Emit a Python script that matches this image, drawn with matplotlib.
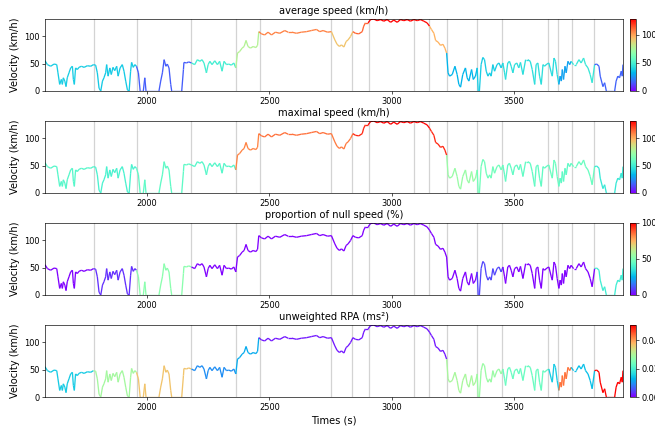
import numpy as np
import matplotlib.pyplot as plt
from matplotlib.collections import LineCollection

# time (s) and velocity (km/h)
times = [1583, 1593, 1606, 1620, 1631, 1636, 1643, 1650, 1654, 1658, 1664, 1669, 1674, 1681, 1688,
         1695, 1699, 1703, 1708, 1715, 1722, 1732, 1743, 1756, 1770, 1781, 1790, 1797, 1804, 1811,
         1818, 1824, 1831, 1835, 1841, 1848, 1854, 1861, 1868, 1876, 1882, 1890, 1899, 1906, 1913,
         1920, 1927, 1933, 1937, 1944, 1950, 1957, 1965, 1972, 1985, 1991, 1996, 2049, 2056, 2063,
         2070, 2077, 2083, 2090, 2097, 2101, 2142, 2149, 2151, 2162, 2170, 2182, 2195, 2206, 2216,
         2225, 2233, 2243, 2250, 2257, 2266, 2277, 2288, 2297, 2307, 2315, 2325, 2334, 2345, 2355,
         2363, 2370, 2379, 2389, 2397, 2405, 2413, 2423, 2434, 2445, 2452, 2457, 2468, 2481, 2495,
         2509, 2525, 2543, 2563, 2577, 2593, 2611, 2631, 2652, 2672, 2693, 2706, 2720, 2738, 2754,
         2768, 2777, 2787, 2795, 2805, 2814, 2822, 2832, 2842, 2852, 2866, 2880, 2886, 2893, 2904,
         2914, 2927, 2941, 2955, 2968, 2982, 2996, 3009, 3023, 3036, 3050, 3064, 3077, 3091, 3105,
         3118, 3132, 3145, 3155, 3163, 3173, 3180, 3190, 3200, 3210, 3218, 3225, 3231, 3237, 3248,
         3259, 3268, 3275, 3282, 3291, 3302, 3309, 3316, 3327, 3334, 3343, 3350, 3354, 3359, 3366,
         3373, 3380, 3387, 3394, 3401, 3407, 3414, 3421, 3431, 3439, 3448, 3455, 3462, 3466, 3475,
         3482, 3489, 3496, 3503, 3512, 3520, 3527, 3537, 3548, 3557, 3567, 3575, 3585, 3591, 3598,
         3605, 3612, 3619, 3625, 3635, 3643, 3653, 3657, 3664, 3670, 3677, 3684, 3689, 3694, 3698,
         3703, 3709, 3714, 3721, 3728, 3734, 3744, 3755, 3766, 3775, 3785, 3793, 3803, 3812, 3820,
         3830, 3839, 3848, 3853, 3864, 3871, 3878, 3912, 3918, 3925, 3932, 3939, 3943, 3946]
speed = [55, 48, 45, 49, 48, 33, 12, 21, 12, 24, 18, 8, 24, 33, 42,
         45, 21, 12, 42, 39, 43, 45, 43, 46, 45, 48, 47, 33, 5, 0,
         18, 24, 33, 48, 27, 42, 30, 43, 37, 45, 27, 42, 48, 36, 18,
         2, 0, 36, 52, 43, 48, 45, 33, 0, 0, 24, 0, 0, 18, 33,
         57, 45, 49, 42, 12, 0, 0, 39, 52, 51, 53, 51, 48, 57, 54,
         57, 51, 33, 48, 54, 48, 55, 48, 54, 36, 54, 48, 49, 47, 51,
         42, 69, 72, 78, 81, 92, 81, 78, 81, 79, 83, 108, 104, 102, 107,
         102, 107, 105, 110, 107, 107, 105, 107, 108, 110, 112, 108, 110, 107, 108,
         93, 85, 81, 84, 80, 90, 93, 99, 108, 105, 104, 108, 118, 124, 124,
         130, 131, 128, 130, 127, 130, 125, 129, 125, 130, 128, 130, 127, 130, 128,
         130, 127, 124, 118, 112, 105, 92, 89, 83, 85, 78, 69, 33, 27, 30,
         45, 30, 12, 7, 30, 42, 24, 18, 39, 21, 27, 42, 0, 0, 48,
         61, 57, 36, 27, 33, 27, 48, 36, 48, 51, 42, 51, 33, 21, 51,
         54, 45, 33, 48, 51, 42, 52, 30, 57, 57, 54, 39, 12, 48, 51,
         27, 12, 48, 45, 49, 51, 33, 27, 60, 54, 30, 12, 27, 18, 39,
         21, 45, 33, 54, 48, 54, 48, 48, 57, 51, 60, 48, 42, 30, 15,
         48, 49, 45, 27, 8, 15, 0, 0, 18, 27, 24, 36, 27, 48]

# segment boundaries (s)
cuts = [1783, 1959, 2180, 2364, 2462, 2753, 2839, 2908, 3092, 3154, 3227, 3350, 3452, 3640,
        3681, 3738, 3828]

# per-segment indicators
avg_speed = [38, 37, 15, 49, 77, 106, 92, 111, 128, 126, 96, 32, 38, 43, 42, 28, 46, 16]
max_speed = [55, 52, 57, 55, 108, 112, 110, 124, 131, 130, 124, 72, 62, 58, 60, 57, 60, 48]
null_prop = [0, 6, 52, 0, 0, 0, 0, 0, 0, 0, 0, 0, 9, 0, 0, 0, 0, 38]
rpa = [0.015, 0.029, 0.0365, 0.0096, 0.012, 0.0015, 0.0015, 0.0015, 0.0015, 0.0015, 0.0015,
       0.0294, 0.028, 0.023, 0.015, 0.043, 0.0137, 0.0507]

titles = ['average speed (km/h)', 'maximal speed (km/h)', 'proportion of null speed (%)',
          'unweighted RPA (ms²)']
indicators = [avg_speed, max_speed, null_prop, rpa]
vmaxs = [max(avg_speed), max(max_speed), 100, max(rpa)]
cticks = [[0, 50, 100], [0, 50, 100], [0, 50, 100], [0, 0.02, 0.04]]

t = np.array(times, dtype=float)
v = np.array(speed, dtype=float)
pts = np.column_stack([t, v]).reshape(-1, 1, 2)
pieces = np.concatenate([pts[:-1], pts[1:]], axis=1)
mid = (t[:-1] + t[1:]) / 2
seg_id = np.searchsorted(cuts, mid)  # which segment each piece belongs to

fig = plt.figure(figsize=(655 / 59, 430 / 59), dpi=59)
bottoms = [0.7884, 0.5512, 0.314, 0.0767]
h = 0.1674

for i in range(4):
    ax = fig.add_axes([0.0687, bottoms[i], 0.8824, h])
    cax = fig.add_axes([0.9618, bottoms[i], 0.0085, h])
    for c in cuts:
        ax.axvline(c, color='lightgray', lw=1.5, zorder=1)
    lc = LineCollection(pieces, cmap='rainbow', lw=1.6, zorder=2)
    lc.set_array(np.array(indicators[i])[seg_id])
    lc.set_clim(0, vmaxs[i])
    ax.add_collection(lc)
    ax.set_xlim(t.min(), t.max())
    ax.set_ylim(0, v.max())
    ax.set_yticks([0, 50, 100])
    ax.set_title(titles[i], fontsize=12)
    ax.set_ylabel('Velocity (km/h)', fontsize=12)
    cb = fig.colorbar(lc, cax=cax)
    cb.set_ticks(cticks[i])

ax.set_xlabel('Times (s)', fontsize=12)

fig.savefig('out.png', dpi=59)
